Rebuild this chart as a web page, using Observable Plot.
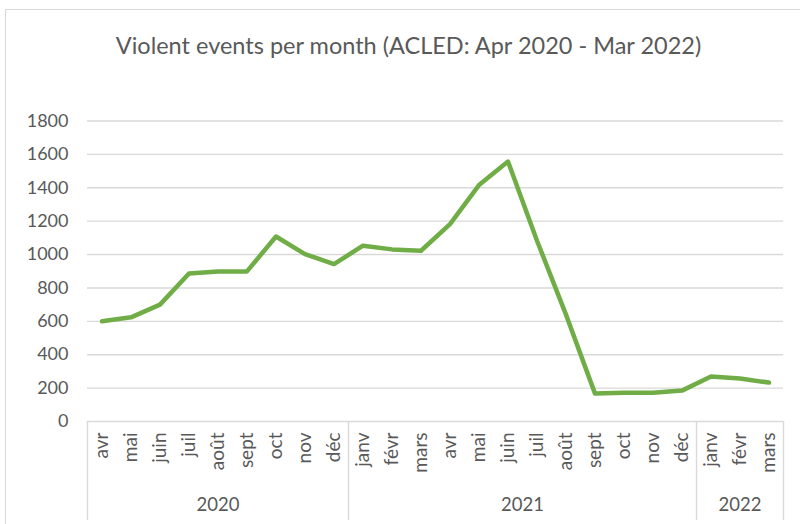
<!DOCTYPE html>
<html>
<head>
<meta charset="utf-8">
<script src="https://cdn.jsdelivr.net/npm/d3@7"></script>
<script src="https://cdn.jsdelivr.net/npm/@observablehq/plot@0.6"></script>
<style>
  html, body { margin: 0; padding: 0; background: #fff; }
  body { width: 800px; height: 524px; position: relative; overflow: hidden; font-family: Lato, "Open Sans", sans-serif; }
  #frame { position: absolute; left: 5px; top: 9px; width: 820px; height: 600px; border: 1.5px solid #d9d9d9; box-sizing: border-box; }
  #title { position: absolute; left: 0; top: 30px; width: 817px; text-align: center; font-size: 23.5px; color: #595959; line-height: 30px; }
  #chart { position: absolute; left: 0; top: 90px; }
</style>
</head>
<body>
<div id="frame"></div>
<div id="title">Violent events per month (ACLED: Apr 2020 - Mar 2022)</div>
<div id="chart"></div>
<script>
const months = ["avr","mai","juin","juil","août","sept","oct","nov","déc",
                "janv","févr","mars","avr","mai","juin","juil","août","sept","oct","nov","déc",
                "janv","févr","mars"];
const values = [600,624,700,887,899,899,1108,1003,943,
                1053,1031,1023,1182,1416,1557,1083,640,167,172,172,185,
                269,257,233];
const yearLabels = ["2020","2021","2022"];
const yearCounts = [9,12,3];
const yTicks = [0,200,400,600,800,1000,1200,1400,1600,1800];

const data = months.map((m, i) => ({i, m, v: values[i]}));
let start = 0;
const yearData = yearLabels.map((y, k) => {
  const d = {label: y, start: start - 0.5, end: start + yearCounts[k] - 0.5};
  d.center = (d.start + d.end) / 2;
  start += yearCounts[k];
  return d;
});
const seps = [yearData[0].start, ...yearData.map(d => d.end)];

const H = 434, MT = 30.5, MB = 103;
const plot = Plot.plot({
  width: 800,
  height: H,
  marginLeft: 87,
  marginRight: 17,
  marginTop: MT,
  marginBottom: MB,
  style: {fontFamily: "Lato, 'Open Sans', sans-serif", color: "#595959", background: "transparent"},
  x: {type: "linear", domain: [-0.5, months.length - 0.5], axis: null},
  y: {domain: [0, 1800], axis: null},
  marks: [
    Plot.gridY(yTicks, {stroke: "#d9d9d9", strokeOpacity: 1, strokeWidth: 1.4}),
    Plot.axisY(yTicks, {label: null, tickSize: 0, tickPadding: 19, fontSize: 18, fill: "#595959", textAnchor: "end", tickFormat: d => String(d)}),
    Plot.ruleX(seps, {stroke: "#d9d9d9", strokeOpacity: 1, strokeWidth: 1.4, insetTop: H - MT - MB, insetBottom: -99}),
    Plot.line(data, {x: "i", y: "v", stroke: "#70ad47", strokeWidth: 4.5, strokeLinejoin: "round", strokeLinecap: "round"}),
    Plot.text(data, {x: "i", y: () => 0, text: "m", rotate: -90, textAnchor: "end", dy: 11, fontSize: 19, fill: "#595959"}),
    Plot.text(yearData, {x: "center", y: () => 0, text: "label", dy: 84, fontSize: 18.5, fill: "#595959"})
  ]
});
document.getElementById("chart").appendChild(plot);
</script>
</body>
</html>
